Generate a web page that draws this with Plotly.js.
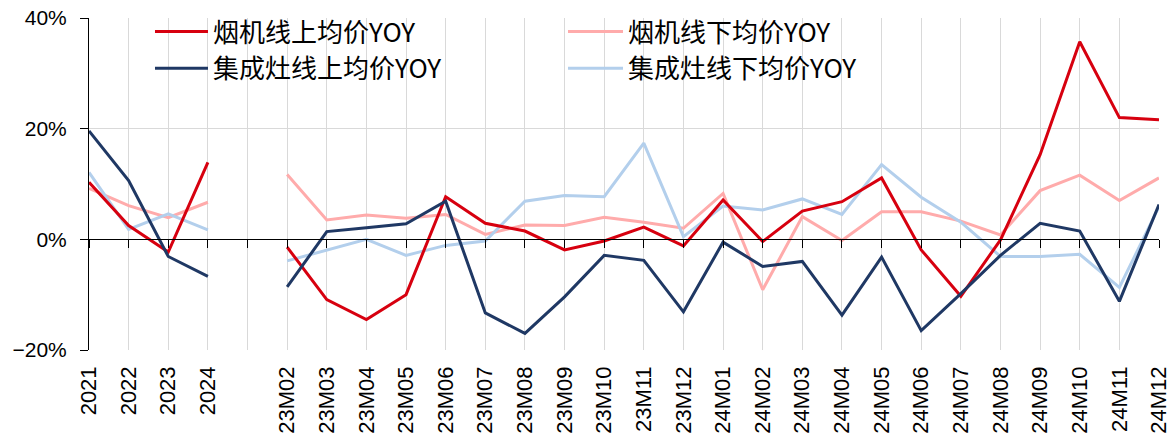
<!DOCTYPE html>
<html>
<head>
<meta charset="utf-8">
<script src="https://cdn.plot.ly/plotly-3.0.1.min.js"></script>
<style>html,body{margin:0;padding:0;background:#fff;}#chart{width:1173px;height:433px;}</style>
</head>
<body>
<div id="chart"></div>
<script>
const categories = ['2021','2022','2023','2024',' ',
  '23M02','23M03','23M04','23M05','23M06','23M07','23M08','23M09','23M10','23M11','23M12',
  '24M01','24M02','24M03','24M04','24M05','24M06','24M07','24M08','24M09','24M10','24M11','24M12'];

const hoodOnline   = [10.3, 2.5, -2.3, 13.9, null,
  -1.4, -10.9, -14.5, -10.0, 7.7, 2.9, 1.5, -1.9, -0.3, 2.2, -1.2,
  7.1, -0.4, 5.1, 6.8, 11.1, -1.9, -10.3, -0.1, 15.3, 35.7, 22.0, 21.6];
const hoodOffline  = [9.2, 6.1, 3.9, 6.7, null,
  11.7, 3.5, 4.4, 3.8, 4.5, 0.9, 2.6, 2.5, 4.0, 3.1, 2.0,
  8.3, -9.1, 4.1, -0.2, 5.0, 5.0, 3.3, 0.8, 8.8, 11.6, 7.0, 11.1];
const stoveOnline  = [19.6, 10.6, -3.1, -6.7, null,
  -8.6, 1.4, 2.1, 2.8, 6.9, -13.3, -17.0, -10.4, -2.9, -3.8, -13.1,
  -0.5, -4.9, -4.0, -13.7, -3.2, -16.5, -9.8, -2.9, 2.9, 1.5, -11.2, 6.3];
const stoveOffline = [12.1, 1.8, 4.6, 1.7, null,
  -3.9, -2.0, 0.0, -2.9, -1.1, -0.3, 6.9, 7.9, 7.7, 17.4, 0.5,
  6.0, 5.3, 7.3, 4.5, 13.5, 7.6, 3.1, -3.1, -3.1, -2.7, -8.7, 5.9];

const seriesNames = ['烟机线上均价YOY','烟机线下均价YOY','集成灶线上均价YOY','集成灶线下均价YOY'];
const yTickVals = [-20, 0, 20, 40];
const yTickText = ['\u221220%', '0%', '20%', '40%'];

const colors = ['#D7000F', '#FFABAB', '#1F3864', '#B3CFEC'];
const seriesData = [hoodOnline, hoodOffline, stoveOnline, stoveOffline];
const legendOf = ['legend', 'legend2', 'legend', 'legend2'];

const traces = seriesData.map((d, i) => ({
  type: 'scatter', mode: 'lines', x: categories, y: d, name: seriesNames[i],
  line: {color: colors[i], width: 3}, connectgaps: false,
  legend: legendOf[i], legendgroup: 'g' + i
}));
const ordered = [traces[1], traces[3], traces[0], traces[2]];
ordered.push({type: 'scatter', mode: 'lines', x: categories, y: categories.map(() => null),
  xaxis: 'x2', showlegend: false, hoverinfo: 'skip'});

const yTickFont = {family: 'Liberation Sans, Arial, sans-serif', size: 21, color: '#000'};
const xTickFont = {family: 'Liberation Sans, Arial, sans-serif', size: 22, color: '#000'};
const legFont = {family: 'Noto Sans CJK SC, sans-serif', size: 26, color: '#000'};

const layout = {
  width: 1173, height: 433,
  margin: {l: 89, r: 14, t: 18, b: 83, autoexpand: false},
  paper_bgcolor: '#fff', plot_bgcolor: '#fff',
  showlegend: true,
  xaxis: {
    type: 'category', categoryorder: 'array', categoryarray: categories,
    range: [0, categories.length - 1],
    showgrid: true, gridcolor: '#D9D9D9', gridwidth: 1,
    showline: false, zeroline: false, ticks: '',
    tickangle: -90, tickfont: xTickFont, ticklabelstandoff: 11
  },
  xaxis2: {
    type: 'category', categoryorder: 'array', categoryarray: categories,
    range: [0, categories.length - 1],
    overlaying: 'x', anchor: 'free', position: 1/3,
    showgrid: false, showline: true, linecolor: '#000', linewidth: 1,
    ticks: 'outside', ticklen: 8, tickcolor: '#000', tickwidth: 1,
    showticklabels: false, zeroline: false
  },
  yaxis: {
    range: [-20, 40], tickmode: 'array', tickvals: yTickVals, ticktext: yTickText,
    showgrid: true, gridcolor: '#D9D9D9', gridwidth: 1,
    showline: true, linecolor: '#000', linewidth: 1,
    ticks: 'outside', ticklen: 8, tickcolor: '#000',
    zeroline: false, tickfont: yTickFont, ticklabelstandoff: 9
  },
  legend: {
    x: 0.057, y: 1.03, xanchor: 'left', yanchor: 'top',
    orientation: 'v', bgcolor: 'rgba(0,0,0,0)', font: legFont,
    tracegroupgap: 0, itemwidth: 53
  },
  legend2: {
    x: 0.443, y: 1.03, xanchor: 'left', yanchor: 'top',
    orientation: 'v', bgcolor: 'rgba(0,0,0,0)', font: legFont,
    tracegroupgap: 0, itemwidth: 55
  }
};

Plotly.newPlot('chart', ordered, layout, {displayModeBar: false, staticPlot: true});
</script>
</body>
</html>
